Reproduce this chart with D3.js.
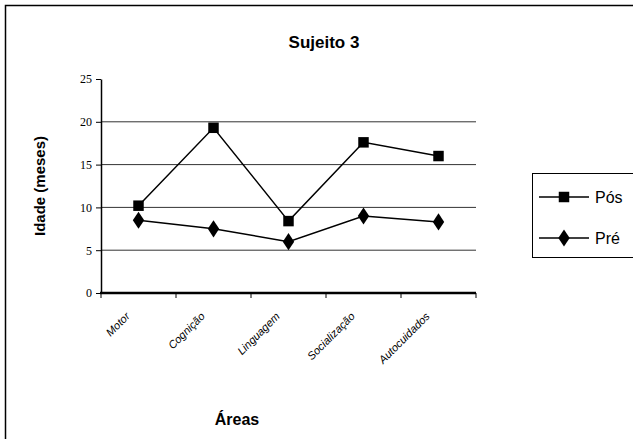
<!DOCTYPE html>
<html>
<head>
<meta charset="utf-8">
<script src="https://cdn.jsdelivr.net/npm/d3@7"></script>
<style>
  body { margin: 0; background: #fff; }
  text { font-family: "Liberation Sans", Arial, sans-serif; }
</style>
</head>
<body>
<script>
// chart data
var areas = ["Motor", "Cognição", "Linguagem", "Socialização", "Autocuidados"];
var posValues = [10.2, 19.3, 8.4, 17.6, 16.0];
var preValues = [8.5, 7.5, 6.0, 9.0, 8.3];
var seriesNames = ["Pós", "Pré"];
var yTicks = [0, 5, 10, 15, 20, 25];

var width = 633, height = 439;
var plot = { left: 101, right: 476, top: 79, bottom: 293 };

var svg = d3.select("body").append("svg")
  .attr("width", width)
  .attr("height", height);

// outer frame
svg.append("rect")
  .attr("x", 5.5).attr("y", 5.5)
  .attr("width", 640).attr("height", 440)
  .attr("fill", "none").attr("stroke", "#000").attr("stroke-width", 1.5);

// scales
var x = d3.scaleBand().domain(areas).range([plot.left, plot.right]);
var y = d3.scaleLinear().domain([0, 25]).range([plot.bottom, plot.top]);

// gridlines
svg.append("g").selectAll("line")
  .data(yTicks.filter(function(d) { return d > 0 && d < 25; }))
  .enter().append("line")
  .attr("x1", plot.left).attr("x2", plot.right)
  .attr("y1", function(d) { return y(d); })
  .attr("y2", function(d) { return y(d); })
  .attr("stroke", "#333").attr("stroke-width", 1);

// y axis
var yAxis = svg.append("g")
  .attr("transform", "translate(" + plot.left + ",0)")
  .call(d3.axisLeft(y).tickValues(yTicks).tickSize(5).tickSizeOuter(0));
yAxis.select(".domain").attr("stroke-width", 1.5);
yAxis.selectAll("text")
  .attr("x", -9)
  .attr("fill", "#000")
  .attr("style", "font-family: 'Liberation Serif', 'DejaVu Serif', serif; font-size: 12px;");

// x axis
var xAxis = svg.append("g")
  .attr("transform", "translate(0," + plot.bottom + ")");
xAxis.append("line")
  .attr("x1", plot.left - 1).attr("x2", plot.right)
  .attr("stroke", "#000").attr("stroke-width", 2.5);
xAxis.selectAll("line.tk")
  .data(d3.range(areas.length + 1))
  .enter().append("line")
  .attr("class", "tk")
  .attr("x1", function(i) { return plot.left + i * x.bandwidth(); })
  .attr("x2", function(i) { return plot.left + i * x.bandwidth(); })
  .attr("y1", 0).attr("y2", 5)
  .attr("stroke", "#000");
xAxis.selectAll("text")
  .data(areas)
  .enter().append("text")
  .attr("transform", function(d) {
    return "translate(" + (x(d) + x.bandwidth() / 2 - 8) + ",24) rotate(-45)";
  })
  .attr("text-anchor", "end")
  .style("font-size", "11px")
  .style("font-style", "italic")
  .attr("fill", "#000")
  .text(function(d) { return d; });

// lines
var line = d3.line()
  .x(function(d, i) { return x(areas[i]) + x.bandwidth() / 2; })
  .y(function(d) { return y(d); });

[posValues, preValues].forEach(function(vals) {
  svg.append("path")
    .datum(vals)
    .attr("d", line)
    .attr("fill", "none")
    .attr("stroke", "#000")
    .attr("stroke-width", 1.5);
});

var square = d3.symbol().type(d3.symbolSquare).size(110);
var diamond = d3.symbol().type(d3.symbolDiamond).size(85);

svg.append("g").selectAll("path")
  .data(posValues).enter().append("path")
  .attr("d", square)
  .attr("transform", function(d, i) {
    return "translate(" + (x(areas[i]) + x.bandwidth() / 2) + "," + y(d) + ")";
  });

svg.append("g").selectAll("path")
  .data(preValues).enter().append("path")
  .attr("d", diamond)
  .attr("transform", function(d, i) {
    return "translate(" + (x(areas[i]) + x.bandwidth() / 2) + "," + y(d) + ") scale(1.15,1)";
  });

// title
svg.append("text")
  .attr("x", 324).attr("y", 48)
  .attr("text-anchor", "middle")
  .style("font-size", "17px").style("font-weight", "bold")
  .text("Sujeito 3");

// y label
svg.append("text")
  .attr("transform", "translate(45,186) rotate(-90)")
  .attr("text-anchor", "middle")
  .style("font-size", "15px").style("font-weight", "bold")
  .text("Idade (meses)");

// x label
svg.append("text")
  .attr("x", 237).attr("y", 425)
  .attr("text-anchor", "middle")
  .style("font-size", "16px").style("font-weight", "bold")
  .text("Áreas");

// legend
var legend = svg.append("g");
legend.append("rect")
  .attr("x", 532.5).attr("y", 173.5)
  .attr("width", 120).attr("height", 84)
  .attr("fill", "#fff").attr("stroke", "#000");
var legendSymbols = [square, diamond];
seriesNames.forEach(function(name, i) {
  var ly = 197 + i * 41;
  legend.append("line")
    .attr("x1", 539).attr("x2", 589)
    .attr("y1", ly).attr("y2", ly)
    .attr("stroke", "#000").attr("stroke-width", 1.5);
  legend.append("path")
    .attr("d", legendSymbols[i])
    .attr("transform", "translate(564," + ly + ")" + (i === 1 ? " scale(1.15,1)" : ""));
  legend.append("text")
    .attr("x", 595).attr("y", ly + 6)
    .style("font-size", "16px")
    .text(name);
});
</script>
</body>
</html>
